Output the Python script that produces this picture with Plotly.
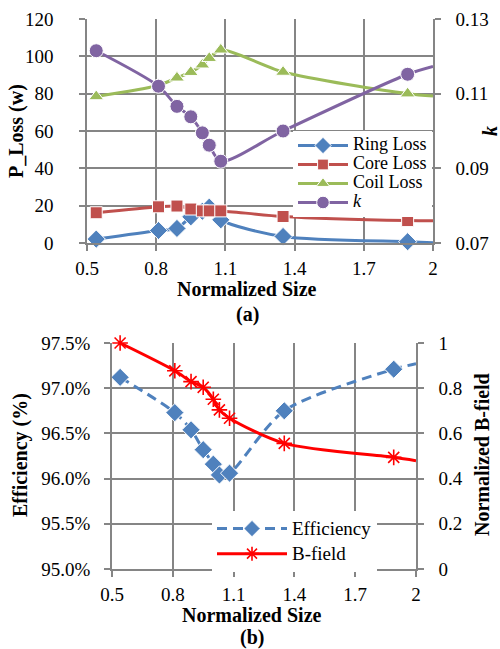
import plotly.graph_objects as go

# ---------------- data ----------------
size = [0.54, 0.81, 0.89, 0.95, 1.0, 1.03, 1.08, 1.35, 1.89, 2.0]
ring_loss = [2.1, 6.7, 7.8, 14.0, 17.0, 19.2, 12.4, 3.5, 0.7, 0.2]
core_loss = [16.2, 19.4, 19.8, 18.2, 17.2, 17.2, 17.2, 14.2, 12.0, 11.9]
coil_loss = [78.5, 84.5, 88.5, 91.5, 95.5, 99.0, 103.5, 91.6, 80.0, 78.8]
k_factor = [0.1215, 0.1120, 0.1066, 0.1038, 0.0995, 0.0962, 0.0919, 0.1000, 0.1152, 0.1173]
efficiency = [0.9712, 0.9673, 0.9654, 0.9632, 0.9616, 0.9604, 0.9606, 0.9675, 0.9721, 0.9727]
b_field = [1.0, 0.877, 0.829, 0.804, 0.751, 0.704, 0.667, 0.556, 0.494, 0.479]

x_ticks = [0.5, 0.8, 1.1, 1.4, 1.7, 2.0]
x_tick_text = ["0.5", "0.8", "1.1", "1.4", "1.7", "2"]

W, H = 500, 649
FONT = '"Liberation Serif", "Times New Roman", Times, serif'
GRID = "#858585"

def px(x):
    return x / W

def py(y):
    return 1 - y / H

# last point only carries the line to the plot edge (no marker)
def msizes(s):
    return [s] * (len(size) - 1) + [0]

def lname(t, s):
    return '<span style="font-size:%dpx">%s</span>' % (s, t)

fig = go.Figure()

line_kw = dict(shape="spline", smoothing=0.8, width=3)

fig.add_trace(go.Scatter(x=size, y=ring_loss, name=lname("Ring Loss", 18), mode="lines+markers",
                         line=dict(color="#4F81BD", **line_kw), cliponaxis=False,
                         marker=dict(symbol="diamond", size=msizes(14), color="#4F81BD", opacity=1),
                         xaxis="x", yaxis="y", legend="legend"))
fig.add_trace(go.Scatter(x=size, y=core_loss, name=lname("Core Loss", 18), mode="lines+markers",
                         line=dict(color="#C0504D", **line_kw), cliponaxis=False,
                         marker=dict(symbol="square", size=msizes(12), color="#C0504D", opacity=1),
                         xaxis="x", yaxis="y", legend="legend"))
fig.add_trace(go.Scatter(x=size, y=coil_loss, name=lname("Coil Loss", 18), mode="lines+markers",
                         line=dict(color="#9BBB59", **line_kw), cliponaxis=False,
                         marker=dict(symbol="triangle-up", size=msizes(13), color="#9BBB59", opacity=1),
                         xaxis="x", yaxis="y", legend="legend"))
fig.add_trace(go.Scatter(x=size, y=k_factor, name=lname("<i>k</i>", 18), mode="lines+markers",
                         line=dict(color="#8064A2", **line_kw), cliponaxis=False,
                         marker=dict(symbol="circle", size=msizes(14), color="#8064A2", opacity=1),
                         xaxis="x", yaxis="y2", legend="legend"))

fig.add_trace(go.Scatter(x=size, y=efficiency, name=lname("Efficiency", 19), mode="lines+markers",
                         line=dict(color="#4F81BD", dash="10px,6px", shape="spline", smoothing=0.8, width=3),
                         cliponaxis=False,
                         marker=dict(symbol="diamond", size=msizes(14), color="#4F81BD", opacity=1),
                         xaxis="x2", yaxis="y3", legend="legend2"))
fig.add_trace(go.Scatter(x=size, y=b_field, name=lname("B-field", 19), mode="lines+markers",
                         line=dict(color="#FF0000", shape="spline", smoothing=0.8, width=3),
                         cliponaxis=False,
                         marker=dict(symbol="asterisk-open", size=msizes(13), color="#FF0000", opacity=1,
                                     line=dict(color="#FF0000", width=1.6)),
                         xaxis="x2", yaxis="y4", legend="legend2"))

tickfont = dict(family=FONT, size=19, color="black")
common = dict(showgrid=True, gridcolor=GRID, gridwidth=1.6, showline=True, linecolor=GRID,
              linewidth=1.6, ticks="outside", ticklen=6, tickcolor=GRID, tickwidth=1.6,
              tickfont=tickfont, zeroline=False, automargin=False)

top_dom_x = [px(87), px(433)]
top_dom_y = [py(243), py(19)]
bot_dom_x = [px(112), px(416)]
bot_dom_y = [py(569), py(343)]

fig.update_layout(
    width=W, height=H, margin=dict(l=0, r=0, t=0, b=0, autoexpand=False),
    paper_bgcolor="white", plot_bgcolor="white",
    font=dict(family=FONT, size=19, color="black"),
    xaxis=dict(domain=top_dom_x, anchor="y", range=[0.5, 2.0], tickvals=x_ticks,
               ticktext=x_tick_text, ticklabelstandoff=1, **common),
    yaxis=dict(domain=top_dom_y, anchor="x", range=[0, 120], dtick=20,
               ticklabelstandoff=22, **common),
    yaxis2=dict(overlaying="y", anchor="x", side="right", range=[0.07, 0.13],
                tickvals=[0.07, 0.09, 0.11, 0.13], ticktext=["0.07", "0.09", "0.11", "0.13"],
                ticklabelstandoff=11, **{**common, "showgrid": False}),
    xaxis2=dict(domain=bot_dom_x, anchor="y3", range=[0.5, 2.0], tickvals=x_ticks,
                ticktext=x_tick_text, ticklabelstandoff=1, **common),
    yaxis3=dict(domain=bot_dom_y, anchor="x2", range=[0.95, 0.975], dtick=0.005,
                tickformat=".1%", ticklabelstandoff=10, **common),
    yaxis4=dict(overlaying="y3", anchor="x2", side="right", range=[0, 1],
                tickvals=[0, 0.2, 0.4, 0.6, 0.8, 1.0], ticktext=["0", "0.2", "0.4", "0.6", "0.8", "1"],
                ticklabelstandoff=11, **{**common, "showgrid": False}),
    legend=dict(x=px(293), y=py(131), xanchor="left", yanchor="top",
                bgcolor="white", font=dict(family=FONT, size=12, color="black"),
                tracegroupgap=0, itemwidth=50),
    legend2=dict(x=px(212), y=py(511), xanchor="left", yanchor="top",
                 bgcolor="white", font=dict(family=FONT, size=17, color="black"),
                 tracegroupgap=0, itemwidth=70),
)

def ann(text, x, y, angle=0, size=20):
    fig.add_annotation(text=text, x=px(x), y=py(y), xref="paper", yref="paper",
                       showarrow=False, textangle=angle, xanchor="center", yanchor="middle",
                       font=dict(family=FONT, size=size, color="black"))

ann("<b>Normalized Size</b>", 247, 289)
ann("<b>(a)</b>", 247, 314)
ann("<b>P_Loss (w)</b>", 17, 131, angle=-90)
ann("<b><i>k</i></b>", 490, 131, angle=-90)
ann("<b>Normalized Size</b>", 252, 615)
ann("<b>(b)</b>", 252, 637)
ann("<b>Efficiency (%)</b>", 20, 455, angle=-90)
ann("<b>Normalized B-field</b>", 482, 455, angle=-90)

fig.write_html("out.html")
